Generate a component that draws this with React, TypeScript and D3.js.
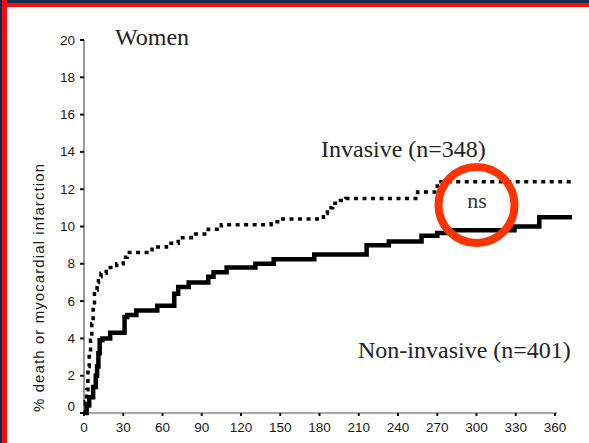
import React from "react";
import * as d3 from "d3";

// Cumulative event curves: day of follow-up and % death or myocardial infarction
const invasiveDays = [0, 1, 2, 3, 4, 5, 6, 7, 8, 10, 11, 13, 17, 25, 30, 33, 52, 63, 72, 82, 95, 105, 143, 150, 183, 186, 190, 196, 200, 255, 270, 373];
const invasivePct = [0, 0.6, 1.25, 2.5, 3.2, 3.9, 4.8, 5.7, 6.6, 7.0, 7.3, 7.5, 7.8, 8.0, 8.35, 8.6, 8.9, 9.1, 9.4, 9.6, 9.85, 10.1, 10.25, 10.4, 10.7, 11.0, 11.25, 11.4, 11.5, 11.85, 12.4, 12.4];

const nonInvasiveDays = [0, 2, 4, 7, 9, 10, 11, 12, 14, 20, 31, 33, 40, 56, 69, 72, 80, 95, 99, 109, 131, 145, 176, 216, 233, 258, 270, 280, 329, 348, 373];
const nonInvasivePct = [0, 0.4, 0.85, 1.4, 2.0, 2.5, 3.2, 3.9, 4.0, 4.3, 5.15, 5.25, 5.5, 5.75, 6.4, 6.75, 7.0, 7.3, 7.55, 7.8, 8.0, 8.25, 8.5, 9.0, 9.2, 9.5, 9.65, 9.8, 10.0, 10.5, 10.5];

const xTicks = [0, 30, 60, 90, 120, 150, 180, 210, 240, 270, 300, 330, 360];
const yTicks = [0, 2, 4, 6, 8, 10, 12, 14, 16, 18, 20];

const W = 589;
const H = 443;

export default function App() {
  const x = d3.scaleLinear().domain([0, 360]).range([84, 555]);
  const y = d3.scaleLinear().domain([0, 20]).range([413, 40]);

  const line = d3
    .line<[number, number]>()
    .x((d) => x(d[0]))
    .y((d) => y(d[1]))
    .curve(d3.curveStepAfter);

  const inv = invasiveDays.map((d, i) => [d, invasivePct[i]] as [number, number]);
  const non = nonInvasiveDays.map((d, i) => [d, nonInvasivePct[i]] as [number, number]);

  const sans = "'Liberation Sans', Arial, sans-serif";
  const serif = "'Liberation Serif', 'Times New Roman', serif";

  return (
    <svg
      width={W}
      height={H}
      viewBox={`0 0 ${W} ${H}`}
      style={{ position: "fixed", left: 0, top: 0, background: "#fff" }}
    >
      <rect x={0} y={0} width={W} height={H} fill="#fff" />
      {/* frame bands */}
      <rect x={0} y={0} width={W} height={7} fill="#ff0a0a" />
      <rect x={0} y={0} width={W} height={3} fill="#0c2c52" />
      <rect x={0} y={0} width={7} height={H} fill="#ff0a0a" />
      <rect x={0} y={0} width={2} height={H} fill="#0c2c52" />

      {/* axes */}
      <line x1={x(0)} x2={x(0)} y1={y(20)} y2={y(0)} stroke="#555" strokeWidth={1.2} />
      <line x1={x(0)} x2={557} y1={y(0)} y2={y(0)} stroke="#555" strokeWidth={1.2} />

      {yTicks.map((t) => (
        <g key={`y${t}`}>
          <line x1={x(0) - 4} x2={x(0)} y1={y(t)} y2={y(t)} stroke="#111" strokeWidth={2} />
          <text
            x={75}
            y={y(t) + (t === 0 ? -7 : 0)}
            textAnchor="end"
            dominantBaseline="central"
            fontFamily={sans}
            fontSize={13.5}
            fill="#1a1a1a"
          >
            {t}
          </text>
        </g>
      ))}

      {xTicks.map((t) => (
        <g key={`x${t}`}>
          <line x1={x(t)} x2={x(t)} y1={y(0)} y2={y(0) + 3} stroke="#111" strokeWidth={2} />
          <text
            x={x(t)}
            y={432}
            textAnchor="middle"
            fontFamily={sans}
            fontSize={13.5}
            fill="#1a1a1a"
          >
            {t}
          </text>
        </g>
      ))}

      <text
        transform="translate(44,288) rotate(-90)"
        textAnchor="middle"
        fontFamily={sans}
        fontSize={15}
        fill="#1a1a1a"
        textLength={248}
        lengthAdjust="spacing"
      >
        % death or myocardial infarction
      </text>

      {/* curves */}
      <path d={line(non) ?? ""} fill="none" stroke="#000" strokeWidth={4.5} />
      <path
        d={line(inv) ?? ""}
        fill="none"
        stroke="#000"
        strokeWidth={3.5}
        strokeDasharray="4 4.5"
      />

      {/* labels */}
      <text x={115} y={45} fontFamily={serif} fontSize={24} fill="#222">
        Women
      </text>
      <text x={321} y={157} fontFamily={serif} fontSize={24} fill="#222">
        Invasive (n=348)
      </text>
      <text x={358} y={358} fontFamily={serif} fontSize={24} fill="#222">
        Non-invasive (n=401)
      </text>
      <text x={477} y={208} textAnchor="middle" fontFamily={serif} fontSize={22} fill="#333">
        ns
      </text>
      <circle cx={476.5} cy={205} r={38} fill="none" stroke="#ff3300" strokeWidth={8} />
    </svg>
  );
}
